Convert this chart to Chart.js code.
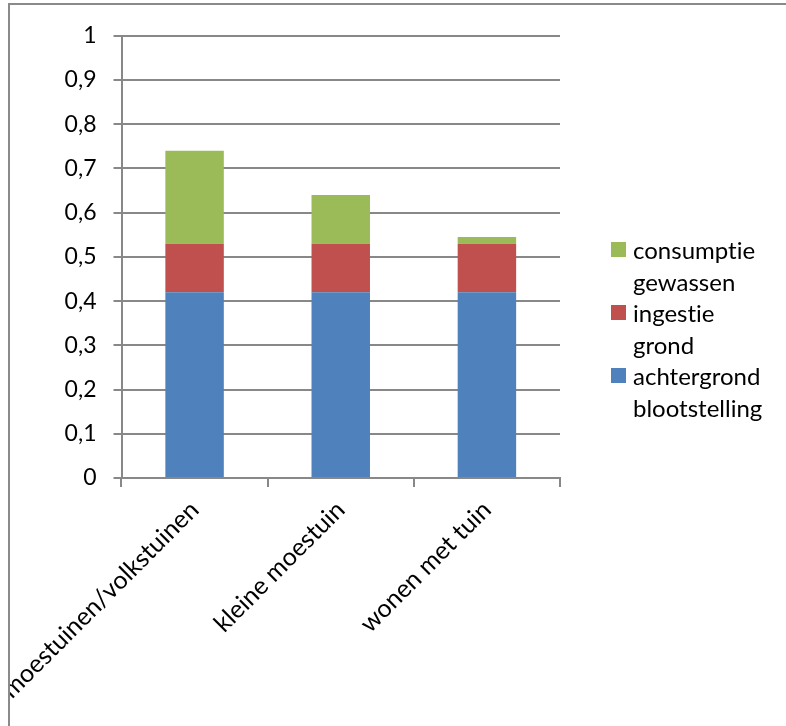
<!DOCTYPE html>
<html>
<head>
<meta charset="utf-8">
<script src="https://cdn.jsdelivr.net/npm/chart.js@4/dist/chart.umd.min.js"></script>
<style>
  html, body { margin: 0; padding: 0; background: #fff; overflow: hidden; }
  body { width: 786px; height: 726px; position: relative; font-family: Lato, "Open Sans", sans-serif; }
  #frame {
    position: absolute; left: 8px; top: 3px; width: 800px; height: 740px;
    border-left: 2px solid #8a8a8a; border-top: 2px solid #8a8a8a;
    overflow: hidden; box-sizing: content-box;
  }
  #plot { position: absolute; left: 0; top: 0; width: 776px; height: 721px; }
  #legend { position: absolute; left: 0; top: 0; }
  .item { position: absolute; font-size: 24px; line-height: 31.5px; color: #000; font-variant-ligatures: none; }
  .item .sw { position: absolute; width: 15px; height: 15px; }
  .item .tx { position: absolute; width: 125px; white-space: normal; }
</style>
</head>
<body>
<div id="frame">
  <div id="plot"><canvas id="c"></canvas></div>
  <div id="legend"></div>
</div>
<script>
// Exposure routes per garden type
const categories = ['moestuinen/volkstuinen', 'kleine moestuin', 'wonen met tuin'];
const achtergrond = [0.42, 0.42, 0.42];
const ingestie = [0.11, 0.11, 0.11];
const consumptie = [0.21, 0.11, 0.015];
const seriesNames = ['achtergrond blootstelling', 'ingestie grond', 'consumptie gewassen'];
const seriesColors = ['#4F81BD', '#C0504D', '#9BBB59'];
const yTickLabels = ['0', '0,1', '0,2', '0,3', '0,4', '0,5', '0,6', '0,7', '0,8', '0,9', '1'];

const Y_FONT = { family: 'Lato', size: 23 };
const X_FONT = { family: 'Lato', size: 25 };
const GRID = '#888888';

const chart = new Chart(document.getElementById('c'), {
  type: 'bar',
  data: {
    labels: categories,
    datasets: [achtergrond, ingestie, consumptie].map((vals, i) => ({
      label: seriesNames[i],
      data: vals,
      backgroundColor: seriesColors[i],
      borderWidth: 0,
      categoryPercentage: 1,
      barPercentage: 0.4
    }))
  },
  options: {
    responsive: true,
    maintainAspectRatio: false,
    animation: false,
    layout: { padding: { left: 0, top: 30, right: 226, bottom: 0 } },
    plugins: { legend: { display: false }, tooltip: { enabled: false }, title: { display: false } },
    scales: {
      x: {
        stacked: true,
        offset: true,
        grid: { offset: true, drawOnChartArea: false, color: GRID, lineWidth: 2, tickLength: 9 },
        border: { color: GRID, width: 2 },
        ticks: { color: '#000', font: X_FONT, minRotation: 45, maxRotation: 45, padding: 8, autoSkip: false },
        afterFit(s) { s.height = 248; s.paddingLeft = 0; s.paddingRight = 0; }
      },
      y: {
        stacked: true,
        min: 0, max: 1,
        grid: { color: GRID, lineWidth: 2, tickLength: 8 },
        border: { color: GRID, width: 2 },
        ticks: {
          stepSize: 0.1, color: '#000', font: Y_FONT, padding: 17,
          callback: (v, i) => yTickLabels[i]
        },
        afterFit(s) { s.width = 111.5; }
      }
    }
  }
});

// Legend: top entry is the last stacked series
const legend = document.getElementById('legend');
const entries = chart.data.datasets.map((d) => ({ label: d.label, color: d.backgroundColor })).reverse();
entries.forEach((e, k) => {
  const top = 229 + k * 63;
  const div = document.createElement('div');
  div.className = 'item';
  div.style.left = '0px';
  div.style.top = top + 'px';
  const sw = document.createElement('div');
  sw.className = 'sw';
  sw.style.background = e.color;
  sw.style.left = '601px';
  sw.style.top = '8px';
  const tx = document.createElement('div');
  tx.className = 'tx';
  tx.style.left = '623px';
  tx.style.top = '0px';
  tx.textContent = e.label;
  div.appendChild(sw);
  div.appendChild(tx);
  legend.appendChild(div);
});
</script>
</body>
</html>
